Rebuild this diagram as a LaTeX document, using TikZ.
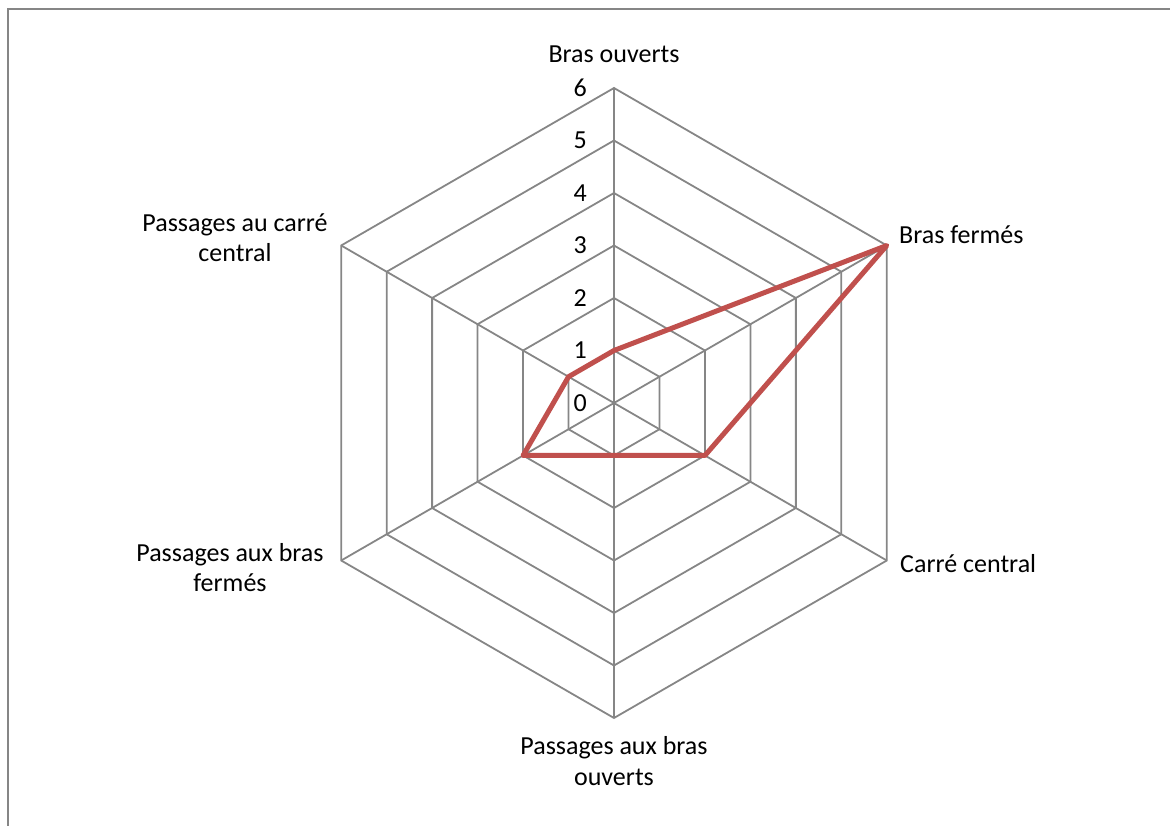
\documentclass[tikz,border=0pt]{standalone}
\usepackage{fontspec}
\setmainfont{Carlito}
\definecolor{gridgray}{HTML}{868686}
\definecolor{seriesred}{HTML}{C0504D}
\tikzset{
  gridline/.style={gridgray, line width=1.8pt},
  series/.style={seriesred, line width=5pt, line join=round},
  ticklabel/.style={anchor=east, inner sep=0pt, font=\fontsize{26}{30}\selectfont},
  axislabel/.style={inner sep=0pt, align=center, font=\fontsize{26}{30}\selectfont}
}
\begin{document}
\begin{tikzpicture}[x=1pt, y=1pt]
                \useasboundingbox (-614,-423) rectangle (556,403);
                \draw[gridgray, line width=2pt] (-605.5,-423) -- (-605.5,393.5) -- (556,393.5);
                % hexagon levels
                \draw[gridline] (90:52.5) -- (30:52.5) -- (-30:52.5) -- (-90:52.5) -- (-150:52.5) -- (150:52.5) -- cycle;
                \draw[gridline] (90:105) -- (30:105) -- (-30:105) -- (-90:105) -- (-150:105) -- (150:105) -- cycle;
                \draw[gridline] (90:157.5) -- (30:157.5) -- (-30:157.5) -- (-90:157.5) -- (-150:157.5) -- (150:157.5) -- cycle;
                \draw[gridline] (90:210) -- (30:210) -- (-30:210) -- (-90:210) -- (-150:210) -- (150:210) -- cycle;
                \draw[gridline] (90:262.5) -- (30:262.5) -- (-30:262.5) -- (-90:262.5) -- (-150:262.5) -- (150:262.5) -- cycle;
                \draw[gridline] (90:315) -- (30:315) -- (-30:315) -- (-90:315) -- (-150:315) -- (150:315) -- cycle;
                % spokes
                \coordinate (O) at (0, 0);
                \coordinate (A_1) at (90:315);
                \coordinate (A_2) at (30:315);
                \coordinate (A_3) at (-30:315);
                \coordinate (A_4) at (-90:315);
                \coordinate (A_5) at (-150:315);
                \coordinate (A_6) at (150:315);
                \draw[gridline] (O) -- (A_1);
                \draw[gridline] (O) -- (A_2);
                \draw[gridline] (O) -- (A_3);
                \draw[gridline] (O) -- (A_4);
                \draw[gridline] (O) -- (A_5);
                \draw[gridline] (O) -- (A_6);
                % scale
                \node[ticklabel] (T_0) at (-27, 0) {0};
                \node[ticklabel] (T_1) at (-27, 52.5) {1};
                \node[ticklabel] (T_2) at (-27, 105) {2};
                \node[ticklabel] (T_3) at (-27, 157.5) {3};
                \node[ticklabel] (T_4) at (-27, 210) {4};
                \node[ticklabel] (T_5) at (-27, 262.5) {5};
                \node[ticklabel] (T_6) at (-27, 315) {6};
                % series
                \coordinate (D_1) at (90:52.5);
                \coordinate (D_2) at (30:315);
                \coordinate (D_3) at (-30:105);
                \coordinate (D_4) at (-90:52.5);
                \coordinate (D_5) at (-150:105);
                \coordinate (D_6) at (150:52.5);
                \draw[series] (D_1) -- (D_2) -- (D_3) -- (D_4) -- (D_5) -- (D_6) -- cycle;
                % axis names
                \node[axislabel, anchor=base] (L_1) at (0, 340) {Bras ouverts};
                \node[axislabel, anchor=base west] (L_2) at (285, 159) {Bras fermés};
                \node[axislabel, anchor=base west] (L_3) at (286, -170) {Carré central};
                \node[axislabel, anchor=base] (L_4) at (0, -382) {Passages aux bras\\ouverts};
                \node[axislabel, anchor=base] (L_5) at (-384, -189) {Passages aux bras\\fermés};
                \node[axislabel, anchor=base] (L_6) at (-379, 141) {Passages au carré\\central};
            \end{tikzpicture}
\end{document}
